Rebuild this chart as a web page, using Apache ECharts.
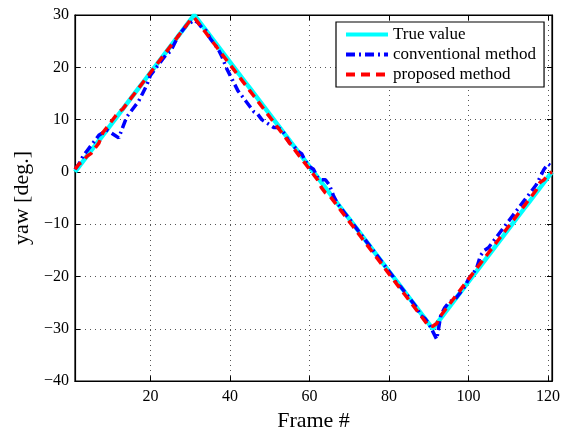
<!DOCTYPE html>
<html>
<head>
<meta charset="utf-8">
<script src="https://cdn.jsdelivr.net/npm/echarts@6/dist/echarts.min.js"></script>
<style>
  html, body { margin: 0; padding: 0; background: #fff; }
  #main { width: 566px; height: 437px; }
</style>
</head>
<body>
<div id="main"></div>
<script>
// frame numbers
var frames = [1,2,3,4,5,6,7,8,9,10,11,12,13,14,15,16,17,18,19,20,
  21,22,23,24,25,26,27,28,29,30,31,32,33,34,35,36,37,38,39,40,
  41,42,43,44,45,46,47,48,49,50,51,52,53,54,55,56,57,58,59,60,
  61,62,63,64,65,66,67,68,69,70,71,72,73,74,75,76,77,78,79,80,
  81,82,83,84,85,86,87,88,89,90,91,92,93,94,95,96,97,98,99,100,
  101,102,103,104,105,106,107,108,109,110,111,112,113,114,115,116,117,118,119,120,121];

var trueValue = [0,1,2,3,4,5,6,7,8,9,10,11,12,13,14,15,16,17,18,19,
  20,21,22,23,24,25,26,27,28,29,30,29,28,27,26,25,24,23,22,21,
  20,19,18,17,16,15,14,13,12,11,10,9,8,7,6,5,4,3,2,1,
  0,-1,-2,-3,-4,-5,-6,-7,-8,-9,-10,-11,-12,-13,-14,-15,-16,-17,-18,-19,
  -20,-21,-22,-23,-24,-25,-26,-27,-28,-29,-30,-29,-28,-27,-26,-25,-24,-23,-22,-21,
  -20,-19,-18,-17,-16,-15,-14,-13,-12,-11,-10,-9,-8,-7,-6,-5,-4,-3,-2,-1,0];

var conventional = [0.5,1.5,3,4,5,6,7,7.5,8,7.5,7,6.5,8.5,10.5,11.5,12.5,13.5,15,16.5,18.5,
  19.5,20.5,21.5,22.5,23,24.5,26,27,28,28.5,29,28.5,27.5,27,25.5,24.5,23.5,22,20,18.5,
  17,15.5,14.5,13.5,12.5,11.5,11,10,9.5,9,8.5,8.5,8,7,5.5,5,4,3.5,2,1,
  0.5,-1,-1.5,-1.5,-2.5,-4.5,-6,-7,-8,-9,-10,-11,-12,-13,-14,-15,-16,-17,-18,-19,
  -20,-21.5,-22,-23,-24,-25,-26,-27.5,-28,-29,-30.5,-32,-27.5,-26,-25,-24.5,-24,-23,-22,-20.5,
  -19.5,-18.5,-16,-15,-14.5,-13.5,-12.5,-11.5,-10.5,-9.5,-8.5,-7.5,-6.5,-5.5,-4.5,-3.5,-2.5,-1,0.5,1.5,1];

var proposed = [0.5,1.5,2,3,3.5,4.5,5.5,7.5,8.5,9.5,10.5,11.5,12,13,14,15,16,17,18,19,
  20,21,22,23,24,25,26,27,28,29,29.5,28.5,27.5,26.5,25.5,24.5,23.5,22.5,21.5,20.5,
  19.5,18.5,17.5,16.5,15.5,14.5,13.5,12.5,11.5,10.5,9.5,8.5,7.5,6.5,5.5,4.5,3.5,2.5,1.5,0.5,
  -0.5,-1.5,-3,-4,-4.5,-5.5,-6.5,-7.5,-8.5,-9.5,-10.5,-11.5,-12.5,-13.5,-14.5,-15.5,-16.5,-17.5,-18.5,-19.5,
  -20.5,-21.5,-22.5,-23.5,-24.5,-25.5,-26.5,-27.5,-28.5,-29.5,-29.5,-29,-27.5,-26.5,-25.5,-24.5,-23.5,-22.5,-21.5,-20.5,
  -19.5,-18.5,-17.5,-16.5,-15.5,-14.5,-13.5,-12.5,-11.5,-10.5,-9.5,-8.5,-7.5,-6.5,-5.5,-4.5,-3.5,-2,-1.5,-0.5,0];

var xTicks = [20, 40, 60, 80, 100, 120];

function pairs(vals) {
  var out = [];
  for (var i = 0; i < frames.length; i++) out.push([frames[i], vals[i]]);
  return out;
}

var font = '"Liberation Serif", "DejaVu Serif", serif';
var chart = echarts.init(document.getElementById('main'));

var option = {
  animation: false,
  backgroundColor: '#fff',
  textStyle: { fontFamily: font },
  grid: { left: 75, right: 14, top: 15, bottom: 46, show: true, borderColor: '#000', borderWidth: 1.2 },
  legend: {
    orient: 'vertical',
    left: 336, top: 22,
    padding: [4, 8, 4, 8],
    itemGap: 3,
    itemWidth: 42, itemHeight: 17,
    borderColor: '#000', borderWidth: 1.2,
    backgroundColor: '#fff',
    itemStyle: { opacity: 0 },
    lineStyle: { width: 4 },
    textStyle: { fontFamily: font, fontSize: 17, color: '#000' },
    data: ['True value', 'conventional method', 'proposed method']
  },
  xAxis: [{
    type: 'value', min: 1, max: 121,
    name: 'Frame #', nameLocation: 'middle', nameGap: 23,
    nameTextStyle: { fontFamily: font, fontSize: 22, color: '#000' },
    axisLine: { show: true, onZero: false, lineStyle: { color: '#000', width: 1.2 } },
    axisTick: { show: true, inside: true, length: 5, customValues: xTicks, lineStyle: { color: '#000' } },
    axisLabel: { customValues: xTicks, color: '#000', fontFamily: font, fontSize: 16, margin: 8 },
    splitLine: { show: true, lineStyle: { color: '#555', type: [1, 4], width: 1 } }
  }, {
    type: 'value', min: 1, max: 121, position: 'top',
    axisLine: { show: true, onZero: false, lineStyle: { color: '#000', width: 1.2 } },
    axisTick: { show: true, inside: true, length: 5, customValues: xTicks, lineStyle: { color: '#000' } },
    axisLabel: { show: false },
    splitLine: { show: false }
  }],
  yAxis: [{
    type: 'value', min: -40, max: 30, interval: 10,
    name: 'yaw [deg.]', nameLocation: 'middle', nameGap: 42, nameRotate: 90,
    nameTextStyle: { fontFamily: font, fontSize: 22, color: '#000' },
    axisLine: { show: true, onZero: false, lineStyle: { color: '#000', width: 1.2 } },
    axisTick: { show: true, inside: true, length: 5, lineStyle: { color: '#000' } },
    axisLabel: { color: '#000', fontFamily: font, fontSize: 16, margin: 6,
      formatter: function (v) { return v < 0 ? '\u2212' + (-v) : '' + v; } },
    splitLine: { show: true, lineStyle: { color: '#555', type: [1, 4], width: 1 } }
  }, {
    type: 'value', min: -40, max: 30, interval: 10, position: 'right',
    axisLine: { show: true, onZero: false, lineStyle: { color: '#000', width: 1.2 } },
    axisTick: { show: true, inside: true, length: 5, lineStyle: { color: '#000' } },
    axisLabel: { show: false },
    splitLine: { show: false }
  }],
  series: [{
    name: 'True value', type: 'line', data: pairs(trueValue),
    symbol: 'none', color: '#00ffff',
    lineStyle: { color: '#00ffff', width: 4.5 }
  }, {
    name: 'conventional method', type: 'line', data: pairs(conventional),
    symbol: 'none', color: '#0000ff',
    lineStyle: { color: '#0000ff', width: 3.5, type: [9, 4, 2, 4] }
  }, {
    name: 'proposed method', type: 'line', data: pairs(proposed),
    symbol: 'none', color: '#ff0000',
    lineStyle: { color: '#ff0000', width: 3.5, type: [9, 6] }
  }]
};

chart.setOption(option);
</script>
</body>
</html>
